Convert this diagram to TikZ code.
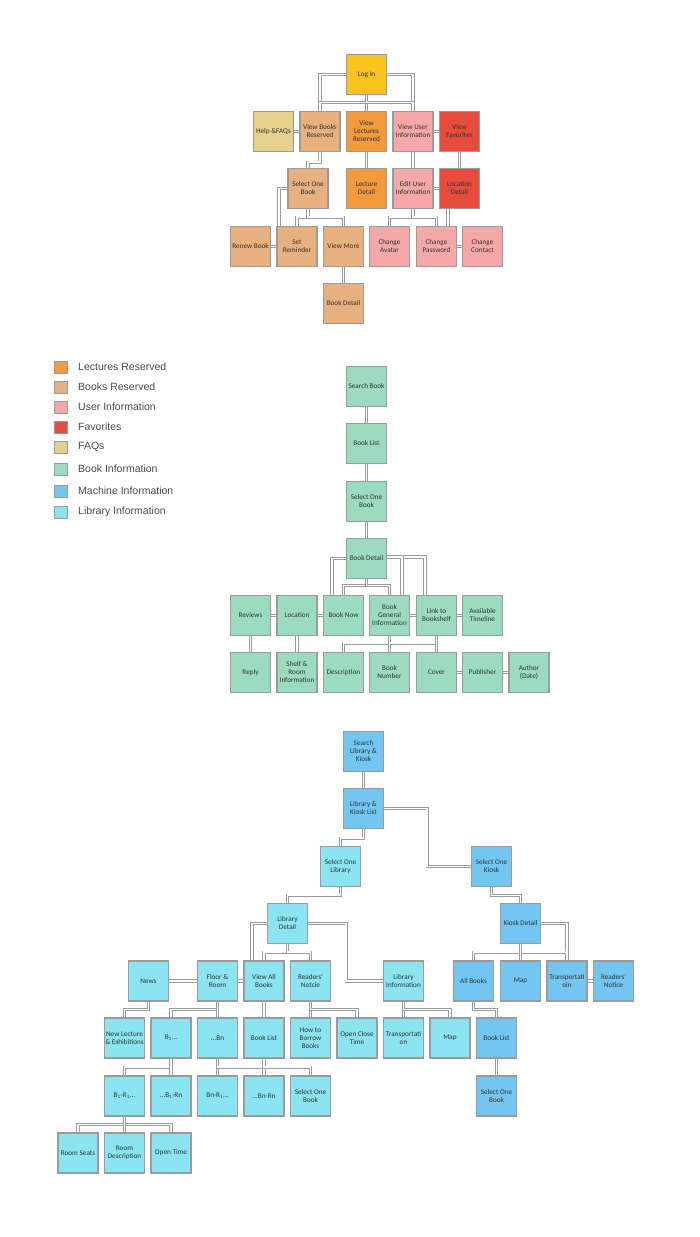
\documentclass[tikz,border=0pt]{standalone}
\usepackage{fontspec}
\newfontfamily\boxfont{Carlito}
\newfontfamily\legfont{Liberation Sans}
\usetikzlibrary{backgrounds}
\definecolor{cLogin}{HTML}{F9C41E}
\definecolor{cFaq}{HTML}{E7D08E}
\definecolor{cBook}{HTML}{E8B07E}
\definecolor{cLect}{HTML}{F39B3C}
\definecolor{cUser}{HTML}{F6A7A7}
\definecolor{cFav}{HTML}{E84B3C}
\definecolor{cInfo}{HTML}{9BDBC0}
\definecolor{cMach}{HTML}{72C6F1}
\definecolor{cLib}{HTML}{8AE4F2}
\definecolor{cBorder}{HTML}{9B9B9B}
\definecolor{cText}{HTML}{333333}
\definecolor{cLeg}{HTML}{4A4A4A}
\tikzset{
  box/.style={draw=cBorder, line width=1.2pt, minimum width=40pt, minimum height=40pt,
    inner sep=0pt, align=center, text=cText, font=\boxfont\fontsize{7.2}{8}\selectfont},
  conn/.style={draw=cBorder, line width=0.9pt, double=white, double distance=1.4pt},
  legbox/.style={draw=cBorder, line width=0.5pt, minimum width=12.5pt, minimum height=12.5pt, inner sep=0pt},
  legtext/.style={anchor=west, inner sep=0pt, text=cLeg, font=\legfont\fontsize{10.5}{12}\selectfont}
}
\begin{document}
\begin{tikzpicture}[x=1pt,y=-1pt]
\useasboundingbox (0,0) rectangle (700,1237);

% ---------------- Top section ----------------
\node[box, fill=cLogin] (login) at (366.5,74.5) {Log In};
\node[box, fill=cFaq] (help) at (273.5,131.5) {Help \&FAQs};
\node[box, fill=cBook] (vbooks) at (320,131.5) {View Books\\Reserved};
\node[box, fill=cLect] (vlect) at (366.5,131.5) {View\\Lectures\\Reserved};
\node[box, fill=cUser] (vuser) at (413,131.5) {View User\\Information};
\node[box, fill=cFav] (vfav) at (459.5,131.5) {View\\Favorites};
\node[box, fill=cBook] (selbook) at (308,188.5) {Select One\\Book};
\node[box, fill=cLect] (lectdet) at (366.5,188.5) {Lecture\\Detail};
\node[box, fill=cUser] (edituser) at (413,188.5) {Edit User\\Information};
\node[box, fill=cFav] (locdet) at (459.5,188.5) {Location\\Detail};
\node[box, fill=cBook] (renew) at (250.5,246.5) {Renew Book};
\node[box, fill=cBook] (setrem) at (297,246.5) {Set\\Reminder};
\node[box, fill=cBook] (viewmore) at (343.5,246.5) {View More};
\node[box, fill=cUser] (avatar) at (389.5,246.5) {Change\\Avatar};
\node[box, fill=cUser] (password) at (436.5,246.5) {Change\\Password};
\node[box, fill=cUser] (contact) at (482.5,246.5) {Change\\Contact};
\node[box, fill=cBook] (bookdet1) at (343.5,303.5) {Book Detail};

% ---------------- Legend ----------------
\node[legbox, fill=cLect] (l1) at (60.5,367) {};
\node[legtext] (t1) at (78,367) {Lectures Reserved};
\node[legbox, fill=cBook] (l2) at (60.5,387) {};
\node[legtext] (t2) at (78,387) {Books Reserved};
\node[legbox, fill=cUser] (l3) at (60.5,407) {};
\node[legtext] (t3) at (78,407) {User Information};
\node[legbox, fill=cFav] (l4) at (60.5,427) {};
\node[legtext] (t4) at (78,427) {Favorites};
\node[legbox, fill=cFaq] (l5) at (60.5,447) {};
\node[legtext] (t5) at (78,447) {FAQs};
\node[legbox, fill=cInfo] (l6) at (60.5,469) {};
\node[legtext] (t6) at (78,469) {Book Information};
\node[legbox, fill=cMach] (l7) at (60.5,491) {};
\node[legtext] (t7) at (78,491) {Machine Information};
\node[legbox, fill=cLib] (l8) at (60.5,512) {};
\node[legtext] (t8) at (78,512) {Library Information};

% ---------------- Middle section ----------------
\node[box, fill=cInfo] (search) at (366.5,386.5) {Search Book};
\node[box, fill=cInfo] (blist) at (366.5,443.5) {Book List};
\node[box, fill=cInfo] (sel1) at (366.5,501.5) {Select One\\Book};
\node[box, fill=cInfo] (bdet) at (366.5,558.5) {Book Detail};
\node[box, fill=cInfo] (reviews) at (250.5,615.5) {Reviews};
\node[box, fill=cInfo] (location) at (297,615.5) {Location};
\node[box, fill=cInfo] (booknow) at (343.5,615.5) {Book Now};
\node[box, fill=cInfo] (bookgen) at (389.5,615.5) {Book\\General\\Information};
\node[box, fill=cInfo] (link) at (436.5,615.5) {Link to\\Bookshelf};
\node[box, fill=cInfo] (avail) at (482.5,615.5) {Available\\Timeline};
\node[box, fill=cInfo] (reply) at (250.5,672.5) {Reply};
\node[box, fill=cInfo] (shelf) at (297,672.5) {Shelf \&\\Room\\Information};
\node[box, fill=cInfo] (desc) at (343.5,672.5) {Description};
\node[box, fill=cInfo] (bnum) at (389.5,672.5) {Book\\Number};
\node[box, fill=cInfo] (cover) at (436.5,672.5) {Cover};
\node[box, fill=cInfo] (publisher) at (482.5,672.5) {Publisher};
\node[box, fill=cInfo] (author) at (529,672.5) {Author\\(Date)};

% ---------------- Bottom section ----------------
\node[box, fill=cMach] (slk) at (363.5,751.5) {Search\\Library \&\\Kiosk};
\node[box, fill=cMach] (lklist) at (363.5,808.5) {Library \&\\Kiosk List};
\node[box, fill=cLib] (sellib) at (340.5,866.5) {Select One\\Library};
\node[box, fill=cMach] (selkiosk) at (491.5,866.5) {Select One\\Kiosk};
\node[box, fill=cLib] (libdet) at (287.5,923.5) {Library\\Detail};
\node[box, fill=cMach] (kdet) at (520.5,923.5) {Kiosk Detail};

\node[box, fill=cLib] (news) at (148.5,981) {News};
\node[box, fill=cLib] (floor) at (217.5,981) {Floor \&\\Room};
\node[box, fill=cLib] (viewall) at (264,981) {View All\\Books};
\node[box, fill=cLib] (readers) at (310.5,981) {Readers'\\Notcie};
\node[box, fill=cLib] (libinfo) at (403.5,981) {Library\\Information};
\node[box, fill=cMach] (allbooks) at (473.5,981) {All Books};
\node[box, fill=cMach] (map1) at (520.5,981) {Map};
\node[box, fill=cMach] (transp1) at (567,981) {Transportati\\oin};
\node[box, fill=cMach] (rnotice) at (613.5,981) {Readers'\\Notice};

\node[box, fill=cLib] (newlect) at (124.5,1038) {New Lecture\\\& Exhibitions};
\node[box, fill=cLib] (b1) at (171,1038) {B\textsubscript{1}...};
\node[box, fill=cLib] (bn) at (217.5,1038) {...Bn};
\node[box, fill=cLib] (booklist) at (264,1038) {Book List};
\node[box, fill=cLib] (howto) at (310.5,1038) {How to\\Borrow\\Books};
\node[box, fill=cLib] (openclose) at (357,1038) {Open Close\\Time};
\node[box, fill=cLib] (transp2) at (403.5,1038) {Transportati\\on};
\node[box, fill=cLib] (map2) at (450,1038) {Map};
\node[box, fill=cMach] (mbooklist) at (496.5,1038) {Book List};

\node[box, fill=cLib] (b1r1) at (124.5,1096) {B\textsubscript{1}-R\textsubscript{1}...};
\node[box, fill=cLib] (b1rn) at (171,1096) {...B\textsubscript{1}-Rn};
\node[box, fill=cLib] (bnr1) at (217.5,1096) {Bn-R\textsubscript{1}...};
\node[box, fill=cLib] (bnrn) at (264,1096) {...Bn-Rn};
\node[box, fill=cLib] (selonebook) at (310.5,1096) {Select One\\Book};
\node[box, fill=cMach] (mselbook) at (496.5,1096) {Select One\\Book};

\node[box, fill=cLib] (roomseats) at (78,1153) {Room Seats};
\node[box, fill=cLib] (roomdesc) at (124.5,1153) {Room\\Description};
\node[box, fill=cLib] (opentime) at (171,1153) {Open Time};

% ---------------- Connectors ----------------
\begin{scope}[on background layer]
\fill[white] (0,0) rectangle (700,1237);
% top
\draw[conn] (login.west) -| (vbooks.north);
\draw[conn] (login.east) -| (vuser.north);
\draw[conn] (login.south) -- (vlect.north);
\draw[conn] (login.south) -- ++(0,7.5) -| (vbooks.north);
\draw[conn] (login.south) -- ++(0,7.5) -| (vuser.north);
\draw[conn] (help.east) -- (vbooks.west);
\draw[conn] (vuser.east) -- (vfav.west);
\draw[conn] (vbooks.south) -- ++(0,10) -| (selbook.north);
\draw[conn] (vlect.south) -- (lectdet.north);
\draw[conn] (vuser.south) -- (edituser.north);
\draw[conn] (vfav.south) -- (locdet.north);
\draw[conn] (edituser.east) -- (locdet.west);
\draw[conn] (selbook.south) -- ++(0,8) -| (setrem.north);
\draw[conn] (selbook.south) -- ++(0,8) -| (viewmore.north);
\draw[conn] (selbook.west) -| ([xshift=-18pt]setrem.north);
\draw[conn] (renew.east) -- (setrem.west);
\draw[conn] (viewmore.south) -- (bookdet1.north);
\draw[conn] (edituser.south) -- ++(0,8) -| (avatar.north);
\draw[conn] (edituser.south) -- ++(0,8) -| (password.north);
\draw[conn] ([xshift=-11.5pt]locdet.south) -- ([xshift=-11.5pt]locdet.south |- password.north);
\draw[conn] (password.east) -- (contact.west);
% middle
\draw[conn] (search.south) -- (blist.north);
\draw[conn] (blist.south) -- (sel1.north);
\draw[conn] (sel1.south) -- (bdet.north);
\draw[conn] (bdet.west) -| ([xshift=-11.5pt]booknow.north);
\draw[conn] (bdet.south) -- ++(0,6.5) -| (booknow.north);
\draw[conn] (bdet.south) -- ++(0,6.5) -| (bookgen.north);
\draw[conn] ([yshift=1.5pt]bdet.east) -| ([xshift=-11.5pt]link.north);
\draw[conn] ([yshift=1.5pt]bdet.east) -| ([xshift=12.5pt]bookgen.north);
\draw[conn] (reviews.east) -- (location.west);
\draw[conn] (location.east) -- (booknow.west);
\draw[conn] (bookgen.east) -- (link.west);
\draw[conn] (link.east) -- (avail.west);
\draw[conn] (reviews.south) -- (reply.north);
\draw[conn] (location.south) -- (shelf.north);
\draw[conn] (bookgen.south) -- ++(0,7) -| (desc.north);
\draw[conn] (bookgen.south) -- (bnum.north);
\draw[conn] (link.south) -- ++(0,7) -| (bnum.north);
\draw[conn] (link.south) -- (cover.north);
\draw[conn] (cover.east) -- (publisher.west);
\draw[conn] (publisher.east) -- (author.west);
% bottom
\draw[conn] (slk.south) -- (lklist.north);
\draw[conn] (lklist.south) -- ++(0,9) -| (sellib.north);
\draw[conn] (lklist.east) -- ++(43,0) |- (selkiosk.west);
\draw[conn] (sellib.south) -- ++(0,8) -| (libdet.north);
\draw[conn] (selkiosk.south) -- ++(0,8.5) -| (kdet.north);
\draw[conn] (libdet.west) -| ([xshift=-12pt]viewall.north);
\draw[conn] (libdet.south) -- ++(0,8) -| (viewall.north);
\draw[conn] (libdet.south) -- ++(0,8) -| (readers.north);
\draw[conn] (libdet.east) -- ++(38,0) |- (libinfo.west);
\draw[conn] (news.east) -- (floor.west);
\draw[conn] (floor.east) -- (viewall.west);
\draw[conn] (news.south) -- ++(0,8) -| (newlect.north);
\draw[conn] (floor.south) -- ++(0,8) -| (b1.north);
\draw[conn] (floor.south) -- (bn.north);
\draw[conn] (viewall.south) -- (booklist.north);
\draw[conn] (readers.south) -- (howto.north);
\draw[conn] (readers.south) -- ++(0,8) -| (openclose.north);
\draw[conn] (libinfo.south) -- (transp2.north);
\draw[conn] (libinfo.south) -- ++(0,8) -| (map2.north);
\draw[conn] (kdet.east) -| (transp1.north);
\draw[conn] (kdet.south) -- ++(0,8) -| (allbooks.north);
\draw[conn] (kdet.south) -- ++(0,8) -| (transp1.north);
\draw[conn] (kdet.south) -- (map1.north);
\draw[conn] (transp1.east) -- (rnotice.west);
\draw[conn] (allbooks.south) -- ++(0,8) -| (mbooklist.north);
\draw[conn] (mbooklist.south) -- (mselbook.north);
\draw[conn] (b1.south) -- ++(0,8.5) -| (b1r1.north);
\draw[conn] (b1.south) -- (b1rn.north);
\draw[conn] (bn.south) -- (bnr1.north);
\draw[conn] (bn.south) -- ++(0,8.5) -| (selonebook.north);
\draw[conn] (booklist.south) -- (bnrn.north);
\draw[conn] (booklist.south) -- ++(0,8.5) -| (selonebook.north);
\draw[conn] (b1r1.south) -- ++(0,8) -| (roomseats.north);
\draw[conn] (b1r1.south) -- ++(0,8) -| (opentime.north);
\draw[conn] (b1r1.south) -- (roomdesc.north);
\end{scope}
\end{tikzpicture}
\end{document}
